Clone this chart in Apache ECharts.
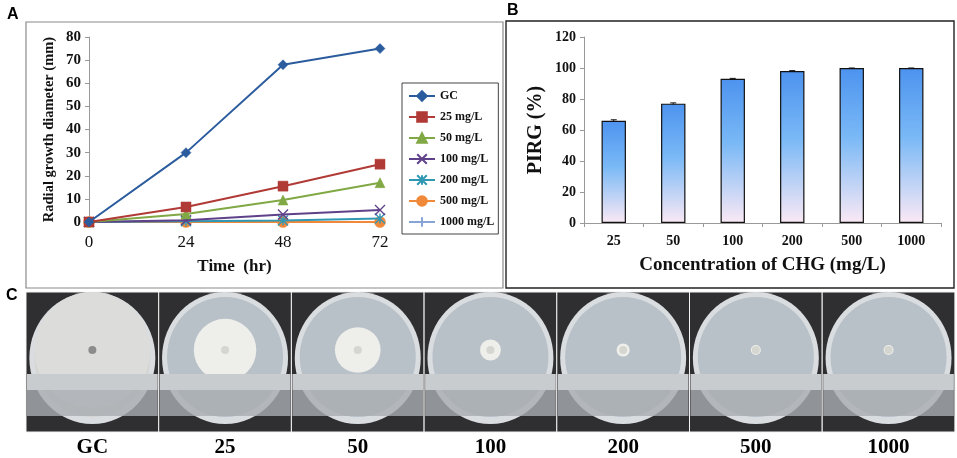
<!DOCTYPE html>
<html lang="en">
<head>
<meta charset="UTF-8">
<title>CHG growth inhibition</title>
<script src="https://cdn.jsdelivr.net/npm/echarts@6/dist/echarts.min.js"></script>
<style>
  html, body { margin: 0; padding: 0; background: #fff; }
  #main { width: 957px; height: 458px; }
</style>
</head>
<body>
<div id="main"></div>
<script type="text/javascript">
// --- data ---
var hours = ['0', '24', '48', '72'];
var gc = [0, 30, 68, 75];
var c25 = [0, 6.5, 15.5, 25];
var c50 = [0, 3.5, 9.5, 17];
var c100 = [0, 0.8, 3.2, 5.2];
var c200 = [0, 0.3, 0.6, 1.5];
var c500 = [0, 0, 0, 0];
var c1000 = [0, 0, 0, 0];
var lineNames = ['GC', '25 mg/L', '50 mg/L', '100 mg/L', '200 mg/L', '500 mg/L', '1000 mg/L'];

var concs = ['25', '50', '100', '200', '500', '1000'];
var pirg = [66, 77, 93, 98, 100, 100];
var pirgErr = [0.6, 0.5, 0.3, 0.3, 0, 0];

var plateLabels = ['GC', '25', '50', '100', '200', '500', '1000'];

var serif = '"Liberation Serif", "Times New Roman", serif';
var sans = '"Liberation Sans", Arial, sans-serif';

var lineData = [gc, c25, c50, c100, c200, c500, c1000];
var lineColors = ['#2b5c9e', '#b03a36', '#80a844', '#5f4189', '#3198b3', '#f08a3a', '#86a4d6'];
var symbols = [
    'diamond', 'rect', 'triangle',
    'path://M0,0L10,10M10,0L0,10',
    'path://M0,0L10,10M10,0L0,10M5,0L5,10',
    'circle',
    'path://M5,0L5,10M0,5L10,5'
];
var symbolSizes = [10, 10, 10, 10, 10, 11, 10];

var myChart = echarts.init(document.getElementById('main'));

var series = lineNames.map(function (n, i) {
    return {
        name: n,
        type: 'line',
        xAxisIndex: 0,
        yAxisIndex: 0,
        data: lineData[i],
        symbol: symbols[i],
        symbolSize: symbolSizes[i],
        showAllSymbol: true,
        lineStyle: { color: lineColors[i], width: 2 },
        itemStyle: { color: lineColors[i], borderColor: lineColors[i], borderWidth: i === 3 || i === 4 || i === 6 ? 1.4 : 0.5 },
        z: 10 - i
    };
});

series.push({
    name: 'PIRG',
    type: 'bar',
    xAxisIndex: 1,
    yAxisIndex: 1,
    data: pirg,
    barWidth: '41%',
    itemStyle: {
        borderColor: '#111',
        borderWidth: 1.2,
        color: new echarts.graphic.LinearGradient(0, 0, 0, 1, [
            { offset: 0, color: '#4d93ef' },
            { offset: 0.45, color: '#7ab9f6' },
            { offset: 1, color: '#fbe9f5' }
        ])
    }
});

series.push({
    name: 'err',
    type: 'custom',
    xAxisIndex: 1,
    yAxisIndex: 1,
    data: pirg.map(function (v, i) { return [i, v - pirgErr[i], v + pirgErr[i]]; }),
    renderItem: function (params, api) {
        var x = api.coord([api.value(0), 0])[0];
        var lo = api.coord([api.value(0), api.value(1)])[1];
        var hi = api.coord([api.value(0), api.value(2)])[1];
        var s = { stroke: '#111', lineWidth: 1 };
        return {
            type: 'group',
            children: [
                { type: 'line', shape: { x1: x, y1: lo, x2: x, y2: hi }, style: s },
                { type: 'line', shape: { x1: x - 3, y1: hi, x2: x + 3, y2: hi }, style: s }
            ]
        };
    },
    z: 5
});

// photo panel C: simple drawn stand-ins for the plate photos
var plates = [];
var pw = 132.7, px0 = 26, py0 = 292, ph = 140;
var finalGrowth = lineData.map(function (d) { return d[d.length - 1]; });
plateLabels.forEach(function (lab, i) {
    var x = px0 + i * pw;
    var cx = x + pw / 2;
    var rDish = 61;
    var rCol = Math.min(rDish - 3, 5 + finalGrowth[i] * 1.05);
    plates.push(
        { type: 'rect', shape: { x: x, y: py0, width: pw, height: ph }, style: { fill: '#2f2f31', stroke: '#f2f2f2', lineWidth: 1 } },
        { type: 'ellipse', shape: { cx: cx, cy: py0 + 66, rx: rDish + 2, ry: 66 }, style: { fill: '#d9dde0' } },
        { type: 'ellipse', shape: { cx: cx, cy: py0 + 65, rx: rDish - 3, ry: 60 }, style: { fill: i === 0 ? '#d4d4d2' : '#b8c0c8' } },
        { type: 'circle', shape: { cx: cx, cy: py0 + 58, r: rCol }, style: { fill: i === 0 ? '#dcdcda' : '#eeeeea' } },
        { type: 'circle', shape: { cx: cx, cy: py0 + 58, r: 4 }, style: { fill: i === 0 ? '#8c8c8c' : '#d6d6d0' } },
        { type: 'rect', shape: { x: x + 1, y: py0 + 82, width: pw - 2, height: 16 }, style: { fill: '#c9cccf' } },
        { type: 'rect', shape: { x: x + 1, y: py0 + 98, width: pw - 2, height: 26 }, style: { fill: '#a9adb1', opacity: 0.8 } },
        { type: 'text', x: cx, y: py0 + 156, style: { text: lab, fill: '#000', font: 'bold 21px ' + serif, align: 'center', verticalAlign: 'middle' } }
    );
});

myChart.setOption({
    backgroundColor: '#fff',
    animation: false,
    graphic: [
        { type: 'rect', shape: { x: 26, y: 22, width: 477, height: 266 }, style: { fill: 'none', stroke: '#8a8a8a', lineWidth: 1.2 } },
        { type: 'rect', shape: { x: 506, y: 21, width: 448, height: 267 }, style: { fill: 'none', stroke: '#222', lineWidth: 1.4 } },
        { type: 'text', x: 7, y: 7, style: { text: 'A', fill: '#000', font: 'bold 16px ' + sans } },
        { type: 'text', x: 507, y: 3, style: { text: 'B', fill: '#000', font: 'bold 16px ' + sans } },
        { type: 'text', x: 6, y: 288, style: { text: 'C', fill: '#000', font: 'bold 16px ' + sans } }
    ].concat(plates),
    legend: {
        data: lineNames,
        orient: 'vertical',
        left: 402,
        top: 83,
        padding: [7, 4, 6, 6],
        itemGap: 9,
        itemWidth: 26,
        itemHeight: 12,
        borderColor: '#444',
        borderWidth: 1,
        textStyle: { fontFamily: serif, fontWeight: 'bold', fontSize: 12, color: '#111' }
    },
    grid: [
        { left: 89, top: 37, width: 291, height: 185 },
        { left: 584, top: 37, width: 357, height: 186 }
    ],
    xAxis: [
        {
            gridIndex: 0,
            type: 'category',
            data: hours,
            boundaryGap: false,
            name: 'Time  (hr)',
            nameLocation: 'middle',
            nameGap: 36,
            nameTextStyle: { fontFamily: serif, fontWeight: 'bold', fontSize: 17, color: '#111' },
            axisLine: { show: false },
            axisTick: { show: false },
            axisLabel: { fontFamily: serif, fontSize: 17, color: '#111', margin: 12 },
            splitLine: { show: false }
        },
        {
            gridIndex: 1,
            type: 'category',
            data: concs,
            name: 'Concentration of CHG (mg/L)',
            nameLocation: 'middle',
            nameGap: 33,
            nameTextStyle: { fontFamily: serif, fontWeight: 'bold', fontSize: 19, color: '#111' },
            axisLine: { lineStyle: { color: '#999', width: 1 } },
            axisTick: { show: true, length: 4, lineStyle: { color: '#999' } },
            axisLabel: { fontFamily: serif, fontWeight: 'bold', fontSize: 14, color: '#111', margin: 11 }
        }
    ],
    yAxis: [
        {
            gridIndex: 0,
            type: 'value',
            min: 0,
            max: 80,
            interval: 10,
            name: 'Radial growth diameter (mm)',
            nameLocation: 'middle',
            nameGap: 32,
            nameTextStyle: { fontFamily: serif, fontWeight: 'bold', fontSize: 14.5, color: '#111' },
            axisLine: { show: true, lineStyle: { color: '#999' } },
            axisTick: { show: true, length: 4, lineStyle: { color: '#999' } },
            axisLabel: { fontFamily: serif, fontWeight: 'bold', fontSize: 15, color: '#111', margin: 8 },
            splitLine: { show: false }
        },
        {
            gridIndex: 1,
            type: 'value',
            min: 0,
            max: 120,
            interval: 20,
            name: 'PIRG (%)',
            nameLocation: 'middle',
            nameGap: 38,
            nameTextStyle: { fontFamily: serif, fontWeight: 'bold', fontSize: 20, color: '#111' },
            axisLine: { show: true, lineStyle: { color: '#999' } },
            axisTick: { show: true, length: 4, lineStyle: { color: '#999' } },
            axisLabel: { fontFamily: serif, fontWeight: 'bold', fontSize: 14, color: '#111', margin: 8 },
            splitLine: { show: false }
        }
    ],
    series: series
});
</script>
</body>
</html>
